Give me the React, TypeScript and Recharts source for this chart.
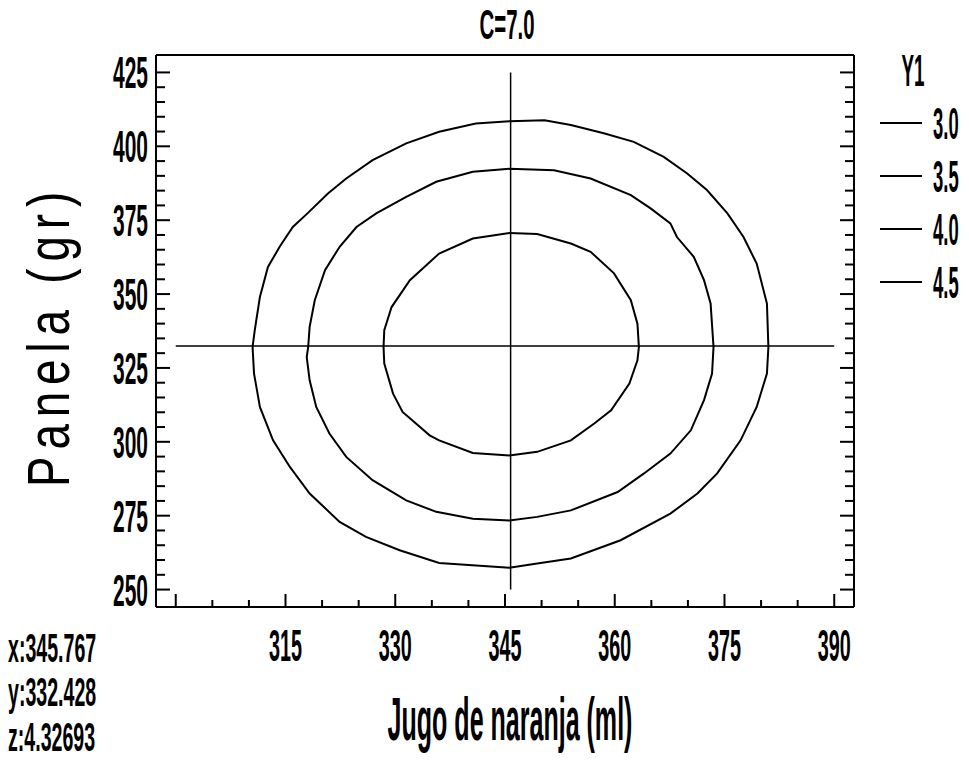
import React from "react";
import { LineChart, Line, XAxis, YAxis, ReferenceLine } from "recharts";

// contour Y1 = 3.0 (outer)
const contour30 = [
  { x: 310.5, y: 332.1 }, { x: 310.8, y: 337.8 }, { x: 311.5, y: 349.0 }, { x: 312.6, y: 359.2 },
  { x: 314.2, y: 366.0 }, { x: 316.0, y: 372.7 }, { x: 318.0, y: 377.3 }, { x: 320.8, y: 384.0 },
  { x: 323.3, y: 389.1 }, { x: 326.9, y: 395.3 }, { x: 331.5, y: 401.0 }, { x: 336.0, y: 404.9 },
  { x: 341.0, y: 407.7 }, { x: 345.6, y: 408.5 }, { x: 350.4, y: 408.8 }, { x: 354.0, y: 407.2 },
  { x: 358.5, y: 404.4 }, { x: 362.6, y: 401.5 }, { x: 366.7, y: 396.4 }, { x: 369.9, y: 390.8 },
  { x: 372.6, y: 385.2 }, { x: 375.4, y: 377.3 }, { x: 377.6, y: 369.3 }, { x: 379.4, y: 360.3 },
  { x: 380.8, y: 346.8 }, { x: 381.0, y: 332.1 }, { x: 380.8, y: 323.1 }, { x: 379.4, y: 311.8 },
  { x: 377.2, y: 300.5 }, { x: 374.0, y: 289.3 }, { x: 371.3, y: 282.5 }, { x: 367.6, y: 275.7 },
  { x: 360.8, y: 266.7 }, { x: 354.0, y: 260.5 }, { x: 349.4, y: 258.8 }, { x: 345.6, y: 257.4 },
  { x: 336.0, y: 259.0 }, { x: 330.6, y: 263.3 }, { x: 326.0, y: 267.8 }, { x: 322.4, y: 272.9 },
  { x: 318.3, y: 282.5 }, { x: 315.6, y: 291.5 }, { x: 313.3, y: 300.5 }, { x: 311.5, y: 311.8 },
  { x: 310.7, y: 323.1 }, { x: 310.5, y: 332.1 },
];

// contour Y1 = 3.5
const contour35 = [
  { x: 318.1, y: 332.1 }, { x: 318.3, y: 338.9 }, { x: 319.0, y: 347.9 }, { x: 320.4, y: 358.1 },
  { x: 322.4, y: 366.0 }, { x: 324.7, y: 372.7 }, { x: 327.4, y: 377.3 }, { x: 331.5, y: 382.9 },
  { x: 335.6, y: 388.0 }, { x: 340.6, y: 391.4 }, { x: 345.6, y: 392.4 }, { x: 351.7, y: 391.9 },
  { x: 356.7, y: 389.1 }, { x: 362.2, y: 383.5 }, { x: 364.9, y: 379.0 }, { x: 367.6, y: 373.9 },
  { x: 368.5, y: 369.3 }, { x: 370.8, y: 362.6 }, { x: 372.2, y: 354.7 }, { x: 373.1, y: 346.8 },
  { x: 373.5, y: 332.1 }, { x: 373.3, y: 323.1 }, { x: 372.2, y: 314.1 }, { x: 370.4, y: 303.9 },
  { x: 367.6, y: 296.0 }, { x: 364.0, y: 289.3 }, { x: 360.4, y: 283.0 }, { x: 354.0, y: 276.8 },
  { x: 349.4, y: 274.6 }, { x: 345.6, y: 273.4 }, { x: 340.6, y: 274.0 }, { x: 335.6, y: 276.3 },
  { x: 331.5, y: 280.2 }, { x: 326.9, y: 287.0 }, { x: 323.3, y: 294.9 }, { x: 321.0, y: 302.8 },
  { x: 319.2, y: 311.8 }, { x: 318.3, y: 320.8 }, { x: 317.9, y: 328.7 }, { x: 318.1, y: 332.1 },
];

// contour Y1 = 4.0 (inner)
const contour40 = [
  { x: 328.4, y: 332.1 }, { x: 328.5, y: 337.8 }, { x: 329.5, y: 345.6 }, { x: 332.0, y: 354.7 },
  { x: 336.0, y: 363.7 }, { x: 340.6, y: 368.8 }, { x: 345.6, y: 370.7 }, { x: 349.4, y: 370.3 },
  { x: 354.0, y: 367.1 }, { x: 356.7, y: 364.3 }, { x: 359.9, y: 357.0 }, { x: 362.2, y: 347.9 },
  { x: 363.1, y: 340.0 }, { x: 363.3, y: 332.1 }, { x: 363.1, y: 327.6 }, { x: 362.0, y: 319.7 },
  { x: 359.5, y: 310.7 }, { x: 357.2, y: 306.2 }, { x: 354.0, y: 300.5 }, { x: 349.4, y: 296.6 },
  { x: 345.6, y: 295.4 }, { x: 340.6, y: 296.2 }, { x: 336.0, y: 300.5 }, { x: 334.7, y: 302.2 },
  { x: 331.0, y: 310.1 }, { x: 329.7, y: 316.3 }, { x: 328.5, y: 326.5 }, { x: 328.4, y: 332.1 },
];

const legendLevels = ["3.0", "3.5", "4.0", "4.5"];

const xTicks = [300, 305, 310, 315, 320, 325, 330, 335, 340, 345, 350, 355, 360, 365, 370, 375, 380, 385, 390];
const xMajor = [300, 315, 330, 345, 360, 375, 390];
const xLabeled = [315, 330, 345, 360, 375, 390];
const yTicks = [250, 255, 260, 265, 270, 275, 280, 285, 290, 295, 300, 305, 310, 315, 320, 325, 330, 335, 340, 345, 350, 355, 360, 365, 370, 375, 380, 385, 390, 395, 400, 405, 410, 415, 420, 425];
const yMajor = [250, 275, 300, 325, 350, 375, 400, 425];

// crosshair / readout
const crossX = 345.767;
const crossY = 332.428;
const crossZ = 4.32693;
const crossXSpan = [300, 390];
const crossYSpan = [250, 425];

const FONT = "'Liberation Sans Narrow', 'Liberation Sans', Arial, sans-serif";

const NarrowText = ({ x, y, w, size = 45, anchor = "start", bold = true, spacing = 0, children }: any) => (
  <text
    x={x}
    y={y}
    fontSize={size}
    fontFamily={FONT}
    fontWeight={bold ? "bold" : "normal"}
    textAnchor={anchor}
    textLength={w}
    lengthAdjust="spacingAndGlyphs"
    letterSpacing={spacing}
    fill="#000"
  >
    {children}
  </text>
);

// squeezed with a transform so its box is the drawn size
const ScaledText = ({ x, y, sx, size = 45, anchor = "start", children }: any) => (
  <text
    transform={`translate(${x},${y}) scale(${sx},1)`}
    fontSize={size}
    fontFamily="'Liberation Sans', Arial, sans-serif"
    fontWeight="bold"
    textAnchor={anchor}
    fill="#000"
  >
    {children}
  </text>
);

const BottomTick = (props: any) => {
  const { x, y, payload } = props;
  const v = payload.value;
  const len = xMajor.includes(v) ? 13 : 7;
  return (
    <g>
      <line x1={x} y1={y} x2={x} y2={y - len} stroke="#000" strokeWidth={2} />
      {xLabeled.includes(v) && (
        <NarrowText x={x} y={y + 54} w={33} anchor="middle">
          {v}
        </NarrowText>
      )}
    </g>
  );
};

const TopTick = (props: any) => {
  const { x, y, payload } = props;
  const len = xMajor.includes(payload.value) ? 13 : 7;
  return <line x1={x} y1={y} x2={x} y2={y + len} stroke="#000" strokeWidth={2} />;
};

const LeftTick = (props: any) => {
  const { x, y, payload } = props;
  const v = payload.value;
  const major = yMajor.includes(v);
  return (
    <g>
      <line x1={x} y1={y} x2={x + (major ? 14 : 9)} y2={y} stroke="#000" strokeWidth={2} />
      {major && (
        <NarrowText x={x - 8} y={y + 16} w={35} anchor="end">
          {v}
        </NarrowText>
      )}
    </g>
  );
};

const RightTick = (props: any) => {
  const { x, y, payload } = props;
  const len = yMajor.includes(payload.value) ? 14 : 9;
  return <line x1={x} y1={y} x2={x - len} y2={y} stroke="#000" strokeWidth={2} />;
};

const axisLine = { stroke: "#000", strokeWidth: 2 };

export default function App() {
  return (
    <div style={{ position: "absolute", left: 0, top: 0, width: 969, height: 760, background: "#fff" }}>
      <LineChart width={969} height={760} margin={{ top: 35, right: 95, bottom: 93, left: 76 }}>
        <XAxis
          xAxisId="b"
          dataKey="x"
          type="number"
          domain={[297.3, 392.7]}
          ticks={xTicks}
          interval={0}
          tickSize={0}
          tickMargin={0}
          tickLine={false}
          axisLine={axisLine}
          tick={<BottomTick />}
          height={60}
          allowDataOverflow
        />
        <XAxis
          xAxisId="t"
          orientation="top"
          type="number"
          domain={[297.3, 392.7]}
          ticks={xTicks}
          interval={0}
          tickSize={0}
          tickMargin={0}
          tickLine={false}
          axisLine={axisLine}
          tick={<TopTick />}
          height={20}
          allowDataOverflow
        />
        <YAxis
          yAxisId="l"
          type="number"
          domain={[244.1, 430.9]}
          ticks={yTicks}
          interval={0}
          tickSize={0}
          tickMargin={0}
          tickLine={false}
          axisLine={axisLine}
          tick={<LeftTick />}
          width={80}
          allowDataOverflow
        />
        <YAxis
          yAxisId="r"
          orientation="right"
          type="number"
          domain={[244.1, 430.9]}
          ticks={yTicks}
          interval={0}
          tickSize={0}
          tickMargin={0}
          tickLine={false}
          axisLine={axisLine}
          tick={<RightTick />}
          width={20}
          allowDataOverflow
        />
        <ReferenceLine
          xAxisId="b"
          yAxisId="l"
          segment={[{ x: crossXSpan[0], y: crossY }, { x: crossXSpan[1], y: crossY }]}
          stroke="#000"
          strokeWidth={1.5}
          ifOverflow="visible"
        />
        <ReferenceLine
          xAxisId="b"
          yAxisId="l"
          segment={[{ x: crossX, y: crossYSpan[0] }, { x: crossX, y: crossYSpan[1] }]}
          stroke="#000"
          strokeWidth={1.5}
          ifOverflow="visible"
        />
        {[contour30, contour35, contour40].map((c, i) => (
          <Line
            key={i}
            data={c}
            dataKey="y"
            xAxisId="b"
            yAxisId="l"
            type="linear"
            stroke="#000"
            strokeWidth={2}
            dot={false}
            activeDot={false}
            isAnimationActive={false}
          />
        ))}
      </LineChart>
      <svg
        width={969}
        height={760}
        style={{ position: "absolute", left: 0, top: 0, pointerEvents: "none" }}
      >
        <NarrowText x={507} y={39} w={55} size={43} anchor="middle">C=7.0</NarrowText>
        <NarrowText x={913} y={86} w={23} anchor="middle">Y1</NarrowText>
        {legendLevels.map((lv, i) => (
          <g key={lv}>
            <line x1={880} x2={922} y1={123 + i * 53} y2={123 + i * 53} stroke="#000" strokeWidth={2} />
            <ScaledText x={933} y={139 + i * 53} sx={0.41}>{lv}</ScaledText>
          </g>
        ))}
        <ScaledText x={510} y={740} sx={0.404} size={62} anchor="middle">Jugo de naranja (ml)</ScaledText>
        <g transform="rotate(-90, 69, 336)">
          <NarrowText x={69} y={336} w={302} size={60} anchor="middle" bold={false} spacing={9}>
            Panela (gr)
          </NarrowText>
        </g>
        <ScaledText x={8} y={662} sx={0.49} size={40}>{`x:${crossX}`}</ScaledText>
        <ScaledText x={8} y={706} sx={0.49} size={40}>{`y:${crossY}`}</ScaledText>
        <ScaledText x={8} y={751} sx={0.49} size={40}>{`z:${crossZ}`}</ScaledText>
      </svg>
    </div>
  );
}
